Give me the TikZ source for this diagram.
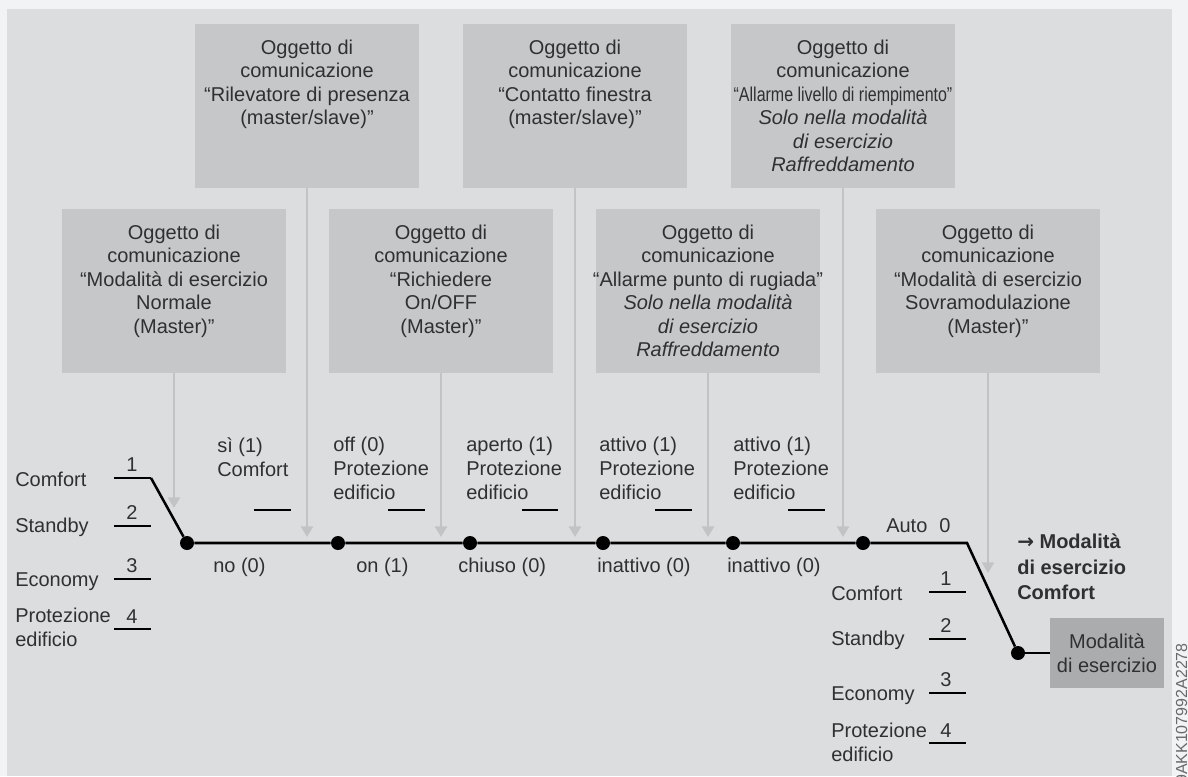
\documentclass[tikz,border=0pt]{standalone}
\usepackage{fontspec}
\setmainfont{Liberation Sans}
\newfontfamily\arrowfont{DejaVu Sans}
\usetikzlibrary{positioning,arrows.meta}

\definecolor{pagebg}{HTML}{F2F3F5}
\definecolor{panelbg}{HTML}{DCDDDF}
\definecolor{boxgray}{HTML}{C6C7C9}
\definecolor{resgray}{HTML}{ABACAE}
\definecolor{feedgray}{HTML}{C2C3C5}
\definecolor{txtgray}{HTML}{303030}
\definecolor{codegray}{HTML}{6A6A6A}

\tikzset{
  objbox/.style={fill=boxgray, minimum width=168pt, minimum height=123pt, inner sep=0pt},
  objtext/.style={inner sep=0pt, align=center, text=txtgray, font=\fontsize{15}{17.6}\selectfont},
  lbl/.style={inner sep=0pt, align=left, text=txtgray, font=\fontsize{15}{18}\selectfont},
  feed/.style={draw=feedgray, line width=2pt, -{Triangle[width=9pt,length=8pt]}},
  wire/.style={draw=black, line width=1.9pt},
  pivot/.style={circle, fill=black, inner sep=0pt, minimum size=10.5pt},
}

\begin{document}
\begin{tikzpicture}[x=0.75pt,y=0.75pt,yscale=-1,xscale=1]
\useasboundingbox (0,0) rectangle (1188,776);

%Shape: Rectangle
\fill[pagebg] (0,0) rectangle (1188,776);
\fill[panelbg] (7,9) rectangle (1172,776);

%Shape: communication objects, upper row
\node[objbox] (boxPresenza) at (307,106) {};
\node[objbox] (boxFinestra) at (575,106) {};
\node[objbox] (boxLivello) at (843,106) {};
%Shape: communication objects, lower row
\node[objbox] (boxNormale) at (174,291) {};
\node[objbox] (boxRichiesta) at (441,291) {};
\node[objbox] (boxRugiada) at (708,291) {};
\node[objbox] (boxSovramod) at (988,291) {};
%Shape: operating mode
\node[fill=resgray, minimum width=85.5pt, minimum height=52.5pt, inner sep=0pt, objtext] (boxModo) at (1107,653) {Modalità\\di esercizio};

% Text Node
\node[objtext, anchor=north, below=12pt of boxPresenza.north] (txtPresenza) {Oggetto di\\comunicazione\\“Rilevatore di presenza\\(master/slave)”};
% Text Node
\node[objtext, anchor=north, below=12pt of boxFinestra.north] (txtFinestra) {Oggetto di\\comunicazione\\“Contatto finestra\\(master/slave)”};
% Text Node
\node[objtext, anchor=north, below=12pt of boxLivello.north] (txtLivello) {Oggetto di\\comunicazione\\\scalebox{0.8}[1]{“Allarme livello di riempimento”}\\\textit{Solo nella modalità}\\\textit{di esercizio}\\\textit{Raffreddamento}};
% Text Node
\node[objtext, anchor=north, below=12pt of boxNormale.north] (txtNormale) {Oggetto di\\comunicazione\\“Modalità di esercizio\\Normale\\(Master)”};
% Text Node
\node[objtext, anchor=north, below=12pt of boxRichiesta.north] (txtRichiesta) {Oggetto di\\comunicazione\\“Richiedere\\On/OFF\\(Master)”};
% Text Node
\node[objtext, anchor=north, below=12pt of boxRugiada.north] (txtRugiada) {Oggetto di\\comunicazione\\“Allarme punto di rugiada”\\\textit{Solo nella modalità}\\\textit{di esercizio}\\\textit{Raffreddamento}};
% Text Node
\node[objtext, anchor=north, below=12pt of boxSovramod.north] (txtSovramod) {Oggetto di\\comunicazione\\“Modalità di esercizio\\Sovramodulazione\\(Master)”};

%Shape: switch pivots
\node[pivot] (swNormale) at (187,543) {};
\node[pivot] (swPresenza) at (338,543) {};
\node[pivot] (swRichiesta) at (470,543) {};
\node[pivot] (swFinestra) at (603,543) {};
\node[pivot] (swRugiada) at (733,543) {};
\node[pivot] (swLivello) at (863,543) {};
\node[pivot] (swModo) at (1018,653) {};
\coordinate (kComfort) at (151,478);
\coordinate (kAuto) at (967,543);

%Straight Lines
\draw[wire] (kComfort) -- (swNormale);
\draw[wire] (swNormale) -- (swPresenza) -- (swRichiesta) -- (swFinestra) -- (swRugiada) -- (swLivello) -- (kAuto) -- (swModo);
\draw[wire] (swModo) -- (boxModo);

%Straight Lines: contacts, left selector
\draw[wire] (114,478) -- (kComfort);
\draw[wire] (114,526) -- (151,526);
\draw[wire] (114,579) -- (151,579);
\draw[wire] (114,629) -- (151,629);
%Straight Lines: upper contacts
\draw[wire] (254,510) -- (291,510);
\draw[wire] (388,510) -- (425,510);
\draw[wire] (522,510) -- (558,510);
\draw[wire] (655,510) -- (692,510);
\draw[wire] (788,510) -- (825,510);
%Straight Lines: contacts, right selector
\draw[wire] (929,592) -- (966,592);
\draw[wire] (929,639) -- (966,639);
\draw[wire] (929,693) -- (966,693);
\draw[wire] (929,743) -- (966,743);

%Straight Lines: arrows from the objects
\coordinate (tipHigh) at (0,508);
\coordinate (tipLine) at (0,537);
\coordinate (tipLow) at (0,573);
\draw[feed] (boxNormale.south) -- (boxNormale.south |- tipHigh);
\draw[feed] (boxPresenza.south) -- (boxPresenza.south |- tipLine);
\draw[feed] (boxRichiesta.south) -- (boxRichiesta.south |- tipLine);
\draw[feed] (boxFinestra.south) -- (boxFinestra.south |- tipLine);
\draw[feed] (boxRugiada.south) -- (boxRugiada.south |- tipLine);
\draw[feed] (boxLivello.south) -- (boxLivello.south |- tipLine);
\draw[feed] (boxSovramod.south) -- (boxSovramod.south |- tipLow);

% Text Node: left selector
\node[lbl, anchor=base west] (lComfort) at (15,486) {Comfort};
\node[lbl, anchor=base west] (lStandby) at (15,532) {Standby};
\node[lbl, anchor=base west] (lEconomy) at (15,586) {Economy};
\node[lbl, anchor=north west] (lProtezione) at (15,608) {Protezione\\edificio};
\node[lbl, anchor=base] (nUno) at (132,471) {1};
\node[lbl, anchor=base] (nDue) at (132,519) {2};
\node[lbl, anchor=base] (nTre) at (132,572) {3};
\node[lbl, anchor=base] (nQuattro) at (132,623) {4};

% Text Node: switch positions
\node[lbl, anchor=north west] (pSi) at (217,437) {sì (1)\\Comfort};
\node[lbl, anchor=north west] (pOff) at (333,437) {off (0)\\Protezione\\edificio};
\node[lbl, anchor=north west] (pAperto) at (466,437) {aperto (1)\\Protezione\\edificio};
\node[lbl, anchor=north west] (pAttivoA) at (599,437) {attivo (1)\\Protezione\\edificio};
\node[lbl, anchor=north west] (pAttivoB) at (733,437) {attivo (1)\\Protezione\\edificio};
\node[lbl, anchor=base west] (pNo) at (213,572) {no (0)};
\node[lbl, anchor=base west] (pOn) at (356,572) {on (1)};
\node[lbl, anchor=base west] (pChiuso) at (458,572) {chiuso (0)};
\node[lbl, anchor=base west] (pInattivoA) at (597,572) {inattivo (0)};
\node[lbl, anchor=base west] (pInattivoB) at (727,572) {inattivo (0)};

% Text Node: right selector
\node[lbl, anchor=base west] (rAuto) at (886,532) {Auto};
\node[lbl, anchor=base] (rZero) at (945,532) {0};
\node[lbl, anchor=base west] (rComfort) at (831,600) {Comfort};
\node[lbl, anchor=base west] (rStandby) at (831,645) {Standby};
\node[lbl, anchor=base west] (rEconomy) at (831,700) {Economy};
\node[lbl, anchor=north west] (rProtezione) at (831,723) {Protezione\\edificio};
\node[lbl, anchor=base] (rUno) at (946,585) {1};
\node[lbl, anchor=base] (rDue) at (946,632) {2};
\node[lbl, anchor=base] (rTre) at (946,686) {3};
\node[lbl, anchor=base] (rQuattro) at (946,737) {4};

% Text Node
\node[lbl, anchor=north west, font=\bfseries\fontsize{15}{18.8}\selectfont] (esito) at (1017,534) {{\arrowfont →} Modalità\\di esercizio\\Comfort};
% Text Node
\node[rotate=90, anchor=base east, inner sep=0pt, text=codegray, font=\fontsize{12}{14}\selectfont] (codice) at (1187,643) {9AKK107992A2278};

\end{tikzpicture}
\end{document}
